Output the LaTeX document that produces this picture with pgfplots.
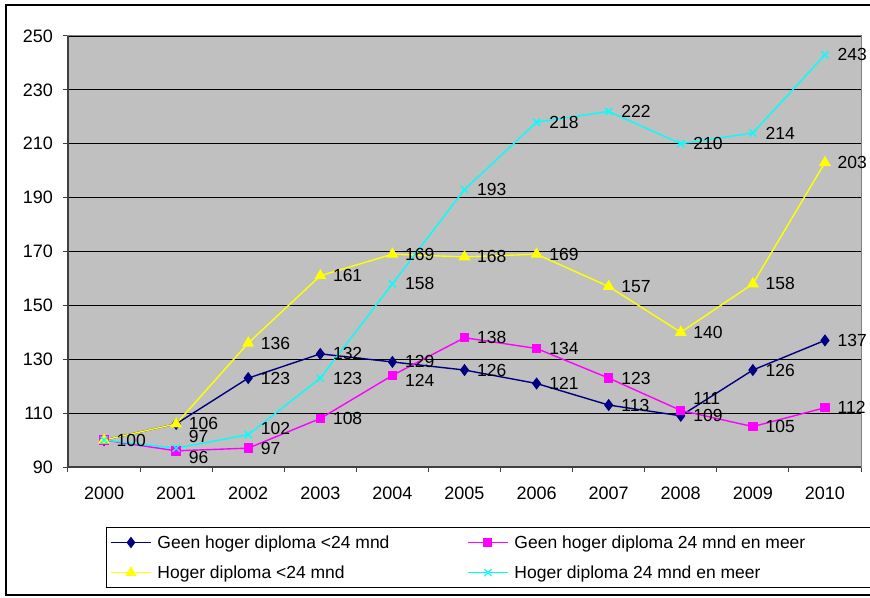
\documentclass[border=0pt]{standalone}
\usepackage{fontspec}
\setmainfont{Liberation Sans}
\usepackage{pgfplots}
\usepackage{pgfplotstable}
\pgfplotsset{compat=1.18}

\definecolor{xlnavy}{HTML}{000080}
\definecolor{xlmag}{HTML}{FF00FF}
\definecolor{xlyel}{HTML}{FFFF00}
\definecolor{xlcyan}{HTML}{00FFFF}
\definecolor{xlgray}{HTML}{C0C0C0}

% x = year, y = index, dy = label shift, lbl = data label ({} where hidden behind another)
\pgfplotstableread{
x y dy lbl
2000 100 0 100
2001 106 0 106
2002 123 0 123
2003 132 0 132
2004 129 0 129
2005 126 0 126
2006 121 0 121
2007 113 0 113
2008 109 0 109
2009 126 0 126
2010 137 0 137
}\geenkort
\pgfplotstableread{
x y dy lbl
2000 100 0 {}
2001 96 -7 96
2002 97 0 97
2003 108 0 108
2004 124 -5 124
2005 138 0 138
2006 134 0 134
2007 123 0 123
2008 111 12 111
2009 105 0 105
2010 112 0 112
}\geenlang
\pgfplotstableread{
x y dy lbl
2000 100 0 {}
2001 106 0 {}
2002 136 0 136
2003 161 0 161
2004 169 0 169
2005 168 0 168
2006 169 0 169
2007 157 0 157
2008 140 0 140
2009 158 0 158
2010 203 0 203
}\hogerkort
\pgfplotstableread{
x y dy lbl
2000 100 0 {}
2001 97 12 97
2002 102 6 102
2003 123 0 123
2004 158 0 158
2005 193 0 193
2006 218 0 218
2007 222 0 222
2008 210 0 210
2009 214 0 214
2010 243 0 243
}\hogerlang

\begin{document}
\begin{tikzpicture}
\useasboundingbox (-68pt,-130pt) rectangle (802pt,467pt);
\begin{axis}[
    at={(0,0)}, anchor=south west,
    scale only axis, width=793pt, height=431pt,
    xmin=1999.5, xmax=2010.5,
    ymin=90, ymax=250,
    xtick={2000,...,2010},
    ytick={90,110,...,250},
    minor xtick={1999.5,2000.5,...,2010.5},
    x tick label style={/pgf/number format/1000 sep={}, yshift=-11pt},
    y tick label style={xshift=-6pt},
    /pgf/number format/assume math mode=true,
    tick label style={font=\fontsize{18}{21}\selectfont, text=black},
    tick align=outside, tick pos=left,
    major tick length=5pt, minor tick length=5pt,
    xtick style={draw=none},
    minor x tick style={draw=black!75, line width=1pt},
    y tick style={draw=black!75, line width=1pt},
    ymajorgrids,
    major grid style={black, line width=0.9pt},
    axis line style={draw=gray, line width=1pt},
    axis background/.style={fill=xlgray},
    clip=false,
    line width=1.4pt,
    point meta=explicit symbolic,
    visualization depends on={\thisrow{dy} \as \dy},
    nodes near coords,
    every node near coord/.append style={anchor=west, xshift=11pt, yshift=\dy pt,
        inner sep=1pt, text=black, font=\fontsize{17.5}{20}\selectfont},
    legend columns=2,
    legend cell align=left,
    legend image code/.code={\draw[mark repeat=2,mark phase=2] plot coordinates {(0pt,0pt) (20pt,0pt) (40pt,0pt)};},
    legend style={at={(axis description cs:0.0479,-0.139)}, anchor=north west,
        draw=black, line width=1pt, fill=white,
        font=\fontsize{17.5}{20}\selectfont,
        inner xsep=4pt, inner ysep=6pt, row sep=12pt},
]
\addplot[color=xlnavy, mark=diamond*, mark size=5pt] table[x=x,y=y,meta=lbl] {\geenkort};
\addlegendentry{\makebox[312pt][l]{\hspace{4pt}Geen hoger diploma <24 mnd}}
\addplot[color=xlmag, mark=square*, mark size=4pt] table[x=x,y=y,meta=lbl] {\geenlang};
\addlegendentry{\makebox[362pt][l]{\hspace{4pt}Geen hoger diploma 24 mnd en meer}}
\addplot[color=xlyel, mark=triangle*, mark size=5.5pt] table[x=x,y=y,meta=lbl] {\hogerkort};
\addlegendentry{\makebox[312pt][l]{\hspace{4pt}Hoger diploma <24 mnd}}
\addplot[color=xlcyan, mark=x, mark size=5pt] table[x=x,y=y,meta=lbl] {\hogerlang};
\addlegendentry{\makebox[362pt][l]{\hspace{4pt}Hoger diploma 24 mnd en meer}}
\draw[black!75, line width=1.4pt] (rel axis cs:0,1) -- (rel axis cs:0,0) -- (rel axis cs:1,0);
\end{axis}
\draw[black, line width=1.5pt] (820pt,462pt) -- (-62pt,462pt) -- (-62pt,-128pt) -- (820pt,-128pt);
\end{tikzpicture}
\end{document}
